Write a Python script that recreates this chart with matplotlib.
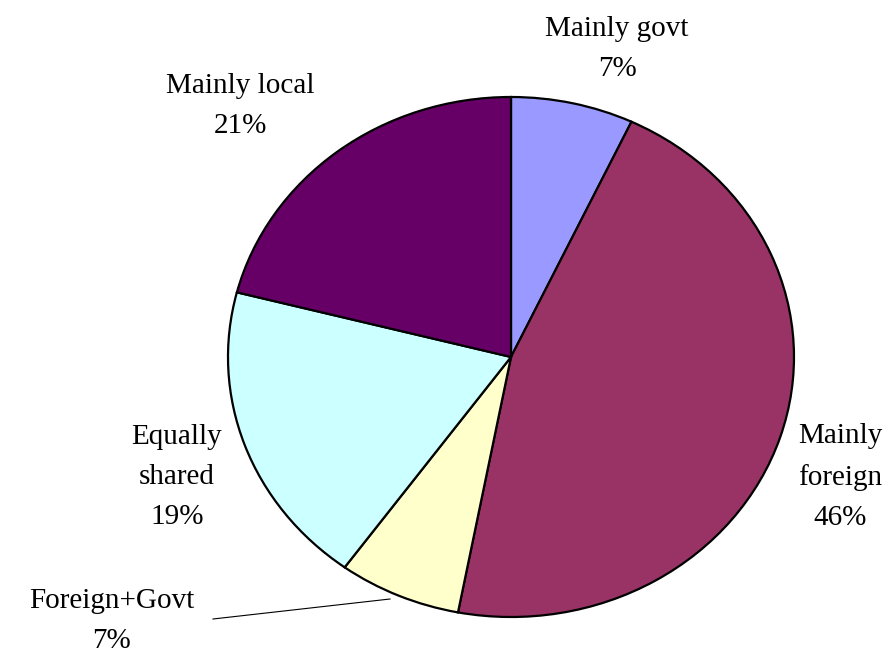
import matplotlib.pyplot as plt

plt.rcParams['font.family'] = ['Liberation Serif', 'DejaVu Serif']

labels = ['Mainly govt', 'Mainly\nforeign', 'Foreign+Govt', 'Equally\nshared', 'Mainly local']
shares = [7, 46, 7, 19, 21]
colors = ['#9999FF', '#993366', '#FFFFCC', '#CCFFFF', '#660066']

W, H = 896, 654
fig = plt.figure(figsize=(W / 100, H / 100), dpi=100)

# pie is slightly stretched horizontally: centre (511, 357), radii 283 x 260 px
cx, cy, rx, ry = 511, 357, 283, 260
ax = fig.add_axes([(cx - rx) / W, (H - cy - ry) / H, 2 * rx / W, 2 * ry / H])
ax.pie(shares, colors=colors, startangle=90, counterclock=False,
       wedgeprops=dict(edgecolor='black', linewidth=1.6))
ax.set_aspect('auto')
ax.set_xlim(-1, 1)
ax.set_ylim(-1, 1)
ax.axis('off')


def px(x, y):
    # pixel position -> data coordinates of the pie axes
    return (x - cx) / rx, (cy - y) / ry


label_pos = [(617, 49), (840, 477), (112, 621), (177, 477), (240, 106)]
for text, share, (x, y) in zip(labels, shares, label_pos):
    ax.text(*px(x, y), f'{text}\n{share}%', ha='center', va='center',
            fontsize=21, linespacing=1.7, clip_on=False)

# leader line for the small Foreign+Govt slice
(x0, y0), (x1, y1) = px(213, 619), px(390, 599)
ax.plot([x0, x1], [y0, y1], color='black', linewidth=0.8, clip_on=False)

fig.savefig('out.png', dpi=100)
